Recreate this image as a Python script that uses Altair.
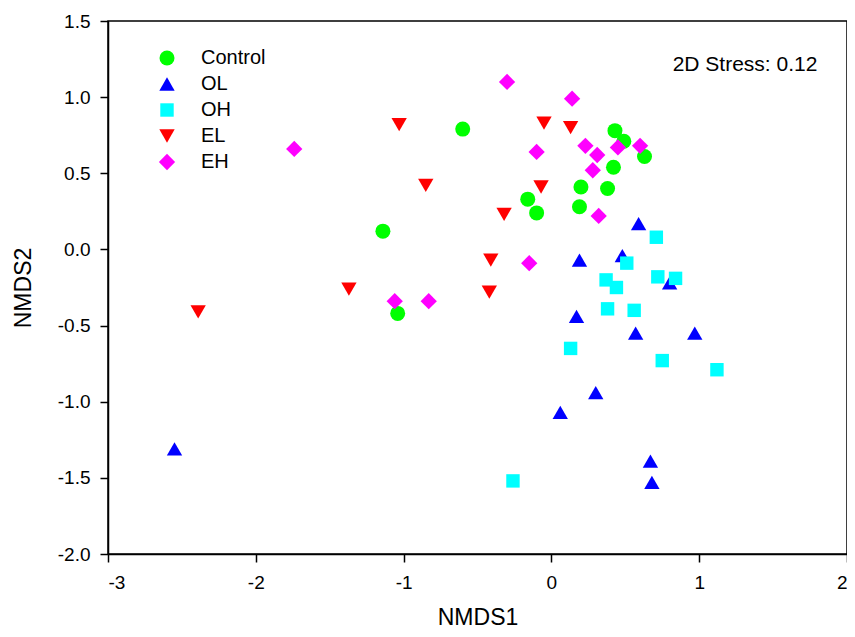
import altair as alt
import pandas as pd

groups = ["Control", "OL", "OH", "EL", "EH"]
colors = ["#00ff00", "#0000ff", "#00ffff", "#ff0000", "#ff00ff"]
shapes = ["circle", "triangle-up", "square", "triangle-down", "diamond"]
sizes = [225, 235, 180, 235, 265]

control_x = [-0.60, -1.14, -1.04, -0.16, -0.10, 0.20, 0.19, 0.38, 0.42, 0.43, 0.49, 0.63]
control_y = [0.79, 0.12, -0.42, 0.33, 0.24, 0.41, 0.28, 0.40, 0.54, 0.78, 0.71, 0.61]

ol_x = [-2.55, 0.59, 0.19, 0.48, 0.80, 0.17, 0.57, 0.97, 0.30, 0.06, 0.67, 0.68]
ol_y = [-1.31, 0.17, -0.07, -0.04, -0.22, -0.44, -0.55, -0.55, -0.94, -1.07, -1.39, -1.53]

oh_x = [0.71, 0.51, 0.37, 0.44, 0.72, 0.84, 0.38, 0.56, 0.13, 0.75, 1.12, -0.26]
oh_y = [0.08, -0.09, -0.20, -0.25, -0.18, -0.19, -0.39, -0.40, -0.65, -0.73, -0.79, -1.52]

el_x = [-1.03, -0.05, 0.13, -0.85, -0.07, -0.32, -0.41, -0.42, -1.37, -2.39]
el_y = [0.82, 0.83, 0.80, 0.42, 0.41, 0.23, -0.07, -0.28, -0.26, -0.41]

eh_x = [-0.30, 0.14, -0.10, 0.23, 0.31, 0.45, 0.60, 0.28, 0.32, -1.74, -0.15, -1.06, -0.83]
eh_y = [1.10, 0.99, 0.64, 0.68, 0.62, 0.67, 0.68, 0.52, 0.22, 0.66, -0.09, -0.34, -0.34]

stress_label = ["2D Stress: 0.12"]
stress_x = [1.31]
stress_y = [1.21]

rows = []
for g, xs, ys in [("Control", control_x, control_y), ("OL", ol_x, ol_y), ("OH", oh_x, oh_y),
                  ("EL", el_x, el_y), ("EH", eh_x, eh_y)]:
    for xv, yv in zip(xs, ys):
        rows.append({"Group": g, "NMDS1": xv, "NMDS2": yv})
df = pd.DataFrame(rows)
df_txt = pd.DataFrame({"x": stress_x, "y": stress_y, "t": stress_label})

FONT = "Liberation Sans"

xscale = alt.Scale(domain=[-3, 2], nice=False, zero=False)
yscale = alt.Scale(domain=[-2, 1.5], nice=False, zero=False)

points = alt.Chart(df).mark_point(filled=True, opacity=1, strokeWidth=0).encode(
    x=alt.X("NMDS1:Q", scale=xscale,
            axis=alt.Axis(values=[-3, -2, -1, 0, 1, 2], title="NMDS1",
                          labelExpr="datum.value < 0 ? '-' + format(-datum.value, 'd') : format(datum.value, 'd')",
                          labelPadding=11, titlePadding=14)),
    y=alt.Y("NMDS2:Q", scale=yscale,
            axis=alt.Axis(values=[-2, -1.5, -1, -0.5, 0, 0.5, 1, 1.5], title="NMDS2",
                          labelExpr="datum.value < 0 ? '-' + format(-datum.value, '.1f') : format(datum.value, '.1f')",
                          labelPadding=10, titlePadding=22)),
    color=alt.Color("Group:N", scale=alt.Scale(domain=groups, range=colors), title=None,
                    legend=alt.Legend(orient="none", legendX=49, legendY=27)),
    shape=alt.Shape("Group:N", scale=alt.Scale(domain=groups, range=shapes), title=None),
    size=alt.Size("Group:N", scale=alt.Scale(type="ordinal", domain=groups, range=sizes), title=None),
)

text = alt.Chart(df_txt).mark_text(fontSize=21, font=FONT, color="black", align="center", baseline="middle").encode(
    x=alt.X("x:Q", scale=xscale),
    y=alt.Y("y:Q", scale=yscale),
    text="t:N",
)

chart = alt.layer(points, text).properties(
    width=739, height=533,
    autosize=alt.AutoSizeParams(type="none"),
    padding={"left": 100, "top": 13, "right": 0, "bottom": 75},
).configure_view(
    stroke="black", strokeWidth=1.5
).configure_axis(
    grid=False, domainColor="black", domainWidth=1.5, tickColor="black", tickWidth=1.5,
    tickSize=8, labelFont=FONT, labelFontSize=19, labelColor="black",
    titleFont=FONT, titleFontSize=23, titleFontWeight="normal", titleColor="black",
).configure_legend(
    labelFont=FONT, labelFontSize=20, labelColor="black", labelOffset=24, rowPadding=6,
    padding=0, symbolStrokeWidth=0, symbolOpacity=1,
)

chart.save("out.html", embed_options={"renderer": "svg", "actions": False})
